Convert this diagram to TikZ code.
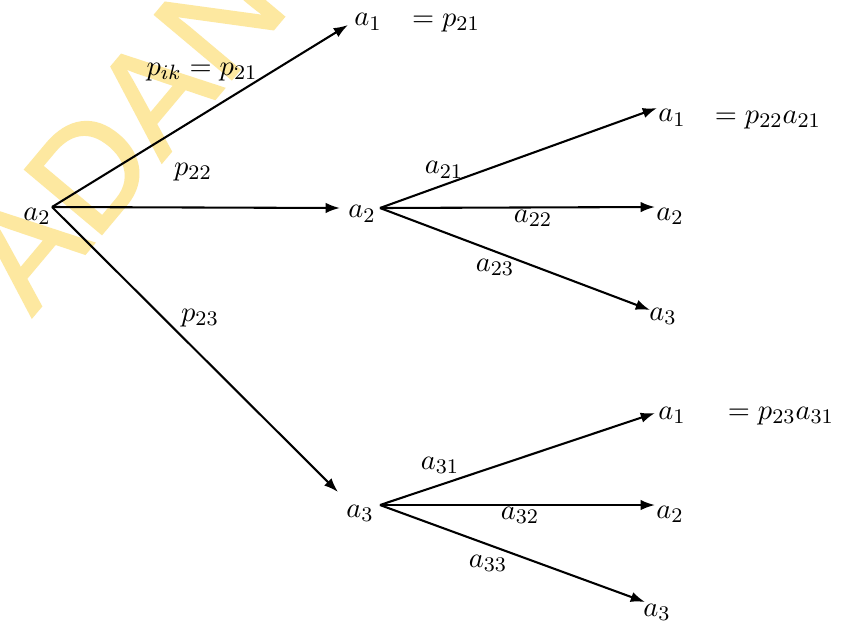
\documentclass[tikz,border=0pt]{standalone}
\usepackage{fontspec}
\newfontfamily\wmfont{Liberation Sans}[FakeBold=1.5]
\usetikzlibrary{arrows.meta}
\definecolor{wmyellow}{RGB}{253,232,160}
\tikzset{
  lab/.style={inner sep=0pt, font=\fontsize{10.95}{13}\selectfont},
  arr/.style={-{Latex[length=5.5pt,width=4pt]}, line width=0.8pt, black},
  wm/.style={inner sep=0pt, text=wmyellow, font=\wmfont\fontsize{56}{56}\selectfont, rotate=50}
}
\begin{document}
\begin{tikzpicture}[x=0.385pt,y=-0.385pt]
\useasboundingbox (0,0) rectangle (867,621);
\fill[white] (0,0) rectangle (867,621);
% watermark
\begin{scope}
\clip (0,0) rectangle (867,621);
\node[wm] (wmark) at (132,120) {PADANG};
\end{scope}
% root
\node[lab] (r) at (37,216) {$a_2$};
\coordinate (R) at (52,207);
% top branch
\node[lab] (t1) at (368,22) {$a_1$};
\node[lab] (e1) at (446,23) {$=p_{21}$};
\coordinate (T1) at (348,25);
\node[lab] (l1) at (202,72) {$p_{ik}=p_{21}$};
\node[lab] (l2) at (193,172) {$p_{22}$};
\node[lab] (l3) at (200,318) {$p_{23}$};
% middle subtree
\node[lab] (m) at (362,214) {$a_2$};
\coordinate (Min) at (340,208);
\coordinate (M) at (380,208);
\node[lab] (m1) at (672,118) {$a_1$};
\node[lab] (m2) at (670,216) {$a_2$};
\node[lab] (m3) at (663,316) {$a_3$};
\coordinate (M1) at (657,108);
\coordinate (M2) at (655,207);
\coordinate (M3) at (650,310);
\node[lab] (em) at (768,120) {$=p_{22}a_{21}$};
\node[lab] (lm1) at (444,170) {$a_{21}$};
\node[lab] (lm2) at (533,218) {$a_{22}$};
\node[lab] (lm3) at (495,267) {$a_{23}$};
% bottom subtree
\node[lab] (b) at (360,513) {$a_3$};
\coordinate (Bin) at (338,492);
\coordinate (B) at (380,505);
\node[lab] (b1) at (672,415) {$a_1$};
\node[lab] (b2) at (670,514) {$a_2$};
\node[lab] (b3) at (657,612) {$a_3$};
\coordinate (B1) at (655,413);
\coordinate (B2) at (655,505);
\coordinate (B3) at (645,602);
\node[lab] (eb) at (781,416) {$=p_{23}a_{31}$};
\node[lab] (lb1) at (440,465) {$a_{31}$};
\node[lab] (lb2) at (520,515) {$a_{32}$};
\node[lab] (lb3) at (488,563) {$a_{33}$};
% connectors
\draw[arr] (R) -- (T1);
\draw[arr] (R) -- (Min);
\draw[arr] (R) -- (Bin);
\draw[arr] (M) -- (M1);
\draw[arr] (M) -- (M2);
\draw[arr] (M) -- (M3);
\draw[arr] (B) -- (B1);
\draw[arr] (B) -- (B2);
\draw[arr] (B) -- (B3);
\end{tikzpicture}
\end{document}
